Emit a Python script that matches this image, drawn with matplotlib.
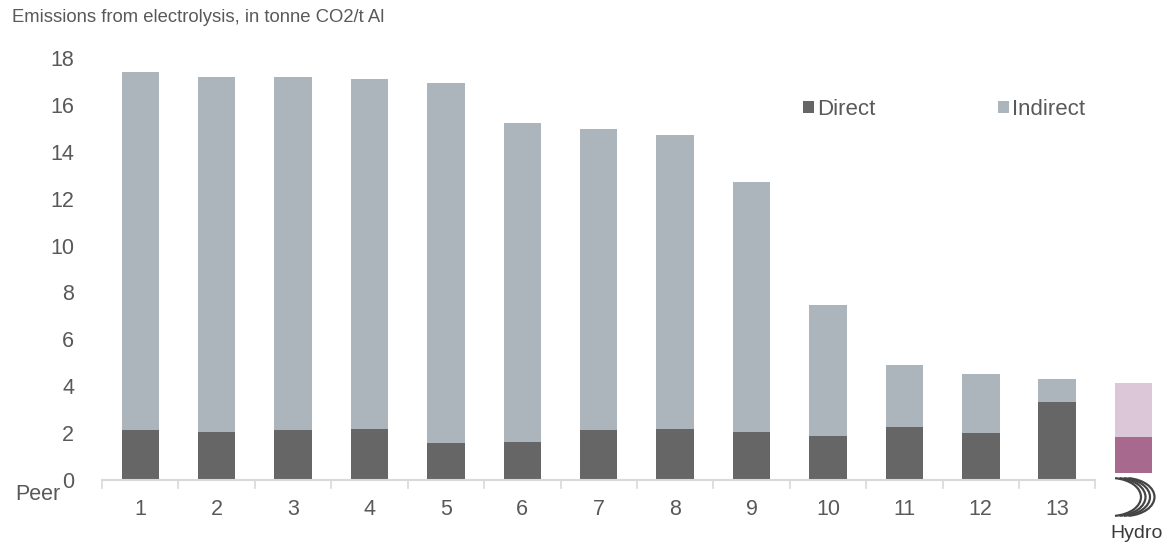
import matplotlib.pyplot as plt
from matplotlib.patches import Arc
from matplotlib.transforms import IdentityTransform

plt.rcParams['font.family'] = ['Liberation Sans', 'DejaVu Sans']

# values (tonne CO2 / t Al)
peers = ['1', '2', '3', '4', '5', '6', '7', '8', '9', '10', '11', '12', '13']
direct = [2.13, 2.06, 2.13, 2.19, 1.56, 1.62, 2.13, 2.19, 2.05, 1.88, 2.26, 2.00, 3.33]
indirect = [15.27, 15.13, 15.06, 14.91, 15.37, 13.59, 12.82, 12.52, 10.65, 5.58, 2.64, 2.50, 0.97]

# Hydro bar floats a bit above the axis in the original
hydro_base = 0.3
hydro_direct = 1.53
hydro_indirect = 2.31

c_direct = '#666666'
c_indirect = '#adb5bc'
c_hydro_direct = '#a8698f'
c_hydro_indirect = '#dcc7d9'
txt = '#595959'
axis_grey = '#d9d9d9'

fig = plt.figure(figsize=(11.73, 5.42), dpi=100)
ax = fig.add_axes([0.087, 0.1144, 0.912, 0.7786])

x = list(range(1, len(peers) + 1))
w = 0.49
ax.bar(x, direct, width=w, color=c_direct, label='Direct')
ax.bar(x, indirect, width=w, bottom=direct, color=c_indirect, label='Indirect')

hx = len(peers) + 1
ax.bar(hx, hydro_direct, width=w, bottom=hydro_base, color=c_hydro_direct)
ax.bar(hx, hydro_indirect, width=w, bottom=hydro_base + hydro_direct, color=c_hydro_indirect)

ax.set_xlim(0.5, len(peers) + 1.5)
ax.set_ylim(0, 18)
ax.set_yticks(range(0, 19, 2))
ax.set_xticks(x)
ax.set_xticklabels(peers)
for s in ax.spines.values():
    s.set_visible(False)
ax.tick_params(axis='both', length=0, labelsize=15.5, labelcolor=txt)
ax.tick_params(axis='y', pad=20)
ax.tick_params(axis='x', pad=14)

# baseline with category separators, only under the peers
ax.plot([0.5, len(peers) + 0.5], [0, 0], color=axis_grey, lw=1.5, clip_on=False, zorder=1)
for b in range(len(peers) + 1):
    ax.plot([b + 0.5, b + 0.5], [0, -0.35], color=axis_grey, lw=1.2, clip_on=False)

fig.text(12 / 1173, 1 - 18 / 542, 'Emissions from electrolysis, in tonne CO2/t Al',
         fontsize=13.3, color=txt, va='center', ha='left')
fig.text(15 / 1173, 1 - 494 / 542, 'Peer', fontsize=15.5, color=txt, va='center', ha='left')

leg = ax.legend(loc='upper left', bbox_to_anchor=(803 / 1173, 1 - 99 / 542),
                bbox_transform=fig.transFigure, ncol=2, frameon=False,
                fontsize=16, handlelength=0.5, handleheight=0.5, handletextpad=0.15,
                columnspacing=5.5, borderpad=0, borderaxespad=0, labelcolor=txt)

# Hydro logo: nested arcs + word mark
for i in range(4):
    arc = Arc((1111 + 4.5 * i, 542 - 497), 60, 38, theta1=-78, theta2=78,
              transform=IdentityTransform(), color='#444444', lw=1.6)
    fig.patches.append(arc)
fig.text(1137 / 1173, 1 - 533 / 542, 'Hydro', fontsize=14, color='#3a3a3a',
         ha='center', va='center')

fig.savefig('out.png', dpi=100)
